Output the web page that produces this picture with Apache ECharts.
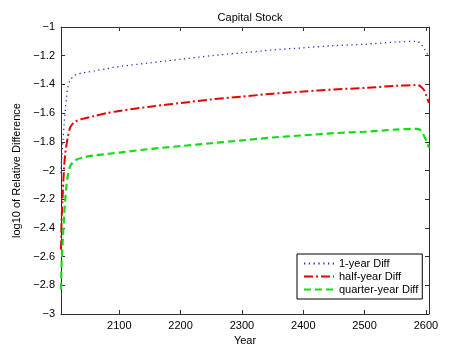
<!DOCTYPE html>
<html>
<head>
<meta charset="utf-8">
<script src="https://cdn.jsdelivr.net/npm/echarts@6/dist/echarts.min.js"></script>
<style>
	html,body{margin:0;padding:0;background:#fff;}
	#main{width:474px;height:354px;}
</style>
</head>
<body>
<div id="main"></div>
<script type="text/javascript">
// 数据
var years = [2005, 2006, 2008, 2010, 2012, 2014, 2016, 2020, 2025, 2030, 2040, 2060, 2080, 2100,
	2150, 2200, 2250, 2300, 2350, 2400, 2450, 2500, 2550, 2585, 2590, 2597, 2605];
var oneYear = [-2.02, -1.92, -1.80, -1.68, -1.58, -1.49, -1.42, -1.37, -1.345, -1.33, -1.32, -1.305, -1.29, -1.275,
	-1.25, -1.225, -1.20, -1.18, -1.16, -1.145, -1.13, -1.12, -1.105, -1.10, -1.11, -1.15, -1.21];
var halfYear = [-2.55, -2.35, -2.15, -1.98, -1.88, -1.82, -1.77, -1.70, -1.67, -1.655, -1.64, -1.62, -1.60, -1.585,
	-1.555, -1.53, -1.505, -1.485, -1.465, -1.45, -1.435, -1.425, -1.41, -1.405, -1.41, -1.44, -1.53];
var quarterYear = [-2.83, -2.65, -2.48, -2.32, -2.20, -2.10, -2.04, -1.97, -1.94, -1.925, -1.91, -1.895, -1.885, -1.875,
	-1.85, -1.83, -1.81, -1.79, -1.77, -1.755, -1.74, -1.73, -1.715, -1.71, -1.715, -1.76, -1.84];
var xTicks = [2100, 2200, 2300, 2400, 2500, 2600];
var seriesNames = ['1-year Diff', 'half-year Diff', 'quarter-year Diff'];

function pairs(ys){
	var arr = [];
	for(var i=0;i<years.length;i++){
		arr.push([years[i], ys[i]]);
	}
	return arr;
}

var fontFamily = 'Liberation Sans, Arial, sans-serif';
var axisColor = '#333';

var myChart = echarts.init(document.getElementById('main'));
var option = {
	backgroundColor: '#fff',
	animation: false,
	title: {
		text: 'Capital Stock',
		left: 245,
		top: 7,
		textAlign: 'center',
		textStyle: {fontSize: 11, fontWeight: 'normal', color: '#000', fontFamily: fontFamily}
	},
	grid: {left: 61, right: 45, top: 27, bottom: 40},
	legend: {
		orient: 'vertical',
		left: 297,
		top: 254,
		padding: [4, 4, 4, 6],
		itemGap: 2,
		itemWidth: 30,
		itemHeight: 12,
		backgroundColor: '#fff',
		borderColor: '#000',
		borderWidth: 1,
		borderRadius: 0,
		itemStyle: {opacity: 0},
		textStyle: {fontSize: 11, color: '#000', fontFamily: fontFamily},
		data: seriesNames
	},
	xAxis: [{
		type: 'value',
		min: 2005,
		max: 2605,
		name: 'Year',
		nameLocation: 'middle',
		nameGap: 19,
		nameTextStyle: {fontSize: 11, color: '#000', fontFamily: fontFamily},
		splitLine: {show: false},
		axisLine: {lineStyle: {color: axisColor, width: 1}},
		axisTick: {inside: true, length: 4, customValues: xTicks, lineStyle: {color: axisColor}},
		axisLabel: {
			customValues: xTicks, color: '#000', fontSize: 11, fontFamily: fontFamily, margin: 6,
			formatter: function(v){ return String(v); }
		}
	}, {
		type: 'value',
		position: 'top',
		min: 2005,
		max: 2605,
		splitLine: {show: false},
		axisLine: {show: true, lineStyle: {color: axisColor, width: 1}},
		axisTick: {inside: true, length: 4, customValues: xTicks, lineStyle: {color: axisColor}},
		axisLabel: {show: false}
	}],
	yAxis: [{
		type: 'value',
		min: -3,
		max: -1,
		interval: 0.2,
		name: 'log10 of Relative Difference',
		nameLocation: 'middle',
		nameGap: 36,
		nameTextStyle: {fontSize: 11, color: '#000', fontFamily: fontFamily},
		splitLine: {show: false},
		axisLine: {show: true, lineStyle: {color: axisColor, width: 1}},
		axisTick: {inside: true, length: 4, lineStyle: {color: axisColor}},
		axisLabel: {
			color: '#000', fontSize: 11, fontFamily: fontFamily, margin: 6,
			formatter: function(v){ return String(+v.toFixed(1)).replace('-', '\u2212'); }
		}
	}, {
		type: 'value',
		position: 'right',
		min: -3,
		max: -1,
		interval: 0.2,
		splitLine: {show: false},
		axisLine: {show: true, lineStyle: {color: axisColor, width: 1}},
		axisTick: {inside: true, length: 4, lineStyle: {color: axisColor}},
		axisLabel: {show: false}
	}],
	series: [{
		name: seriesNames[0],
		type: 'line',
		symbol: 'none',
		data: pairs(oneYear),
		smooth: 0.3,
		color: '#3030d0',
		lineStyle: {width: 1.3, type: [1.3, 3.5], color: '#3030d0'}
	}, {
		name: seriesNames[1],
		type: 'line',
		symbol: 'none',
		data: pairs(halfYear),
		smooth: 0.3,
		color: '#e80000',
		lineStyle: {width: 2, type: [9, 3, 2, 3], color: '#e80000'}
	}, {
		name: seriesNames[2],
		type: 'line',
		symbol: 'none',
		data: pairs(quarterYear),
		smooth: 0.3,
		color: '#14dc14',
		lineStyle: {width: 2.2, type: [7, 4], color: '#14dc14'}
	}]
};
myChart.setOption(option);
</script>
</body>
</html>
